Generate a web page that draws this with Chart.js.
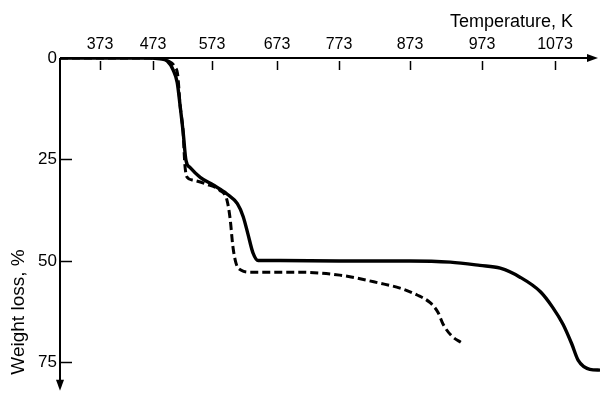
<!DOCTYPE html>
<html><head><meta charset="utf-8">
<script src="https://cdn.jsdelivr.net/npm/chart.js@4.4.0/dist/chart.umd.min.js"></script>
<style>html,body{margin:0;padding:0;background:#fff;}</style>
</head><body>
<canvas id="c" width="600" height="404" style="width:600px;height:404px;display:block"></canvas>
<script>
// ---- data ----
const temperatureTicks = [373, 473, 573, 673, 773, 873, 973, 1073];
const weightTicks = [0, 25, 50, 75];
const solidTemperature = [298, 467, 485, 497, 507, 514, 519, 524, 529, 536, 553, 575, 596, 612, 621, 628, 636, 644, 678, 773, 873, 929, 970, 998, 1025, 1053, 1070, 1084, 1096, 1105, 1121, 1135];
const solidWeightLoss  = [0, 0, 0.2, 0.7, 2.9, 6.0, 11.8, 18.1, 25.3, 27.0, 29.4, 31.3, 33.5, 35.9, 39.1, 43.2, 48.0, 49.9, 49.9, 50.0, 50.0, 50.3, 51.1, 51.8, 54.0, 57.6, 61.5, 65.6, 70.4, 74.5, 76.7, 76.9];
const dashedTemperature = [298, 485, 498, 510, 515, 519, 524, 527, 531, 541, 564, 585, 596, 601, 605, 610, 618, 632, 710, 774, 831, 859, 883, 901, 912, 919, 931, 945];
const dashedWeightLoss  = [0, 0, 0.7, 2.2, 4.3, 11.8, 18.1, 26.3, 29.4, 30.1, 31.1, 32.6, 35.0, 39.8, 46.3, 50.6, 52.3, 52.8, 52.8, 53.5, 55.5, 56.7, 58.4, 60.3, 62.7, 65.6, 68.5, 70.2];

// ---- axis layout: the original temperature axis is not evenly spaced ----
const xAxisKnotValues    = [298, 373, 473, 573, 673, 773, 873, 973, 1073, 1135];
const xAxisKnotFractions = [0, 0.0741, 0.1722, 0.2815, 0.4019, 0.5167, 0.6481, 0.7815, 0.9167, 1];

function warpFraction(v) {
  const K = xAxisKnotValues, F = xAxisKnotFractions;
  if (v <= K[0]) return F[0] + (v - K[0]) * (F[1] - F[0]) / (K[1] - K[0]);
  for (let i = 1; i < K.length; i++) {
    if (v <= K[i]) return F[i-1] + (v - K[i-1]) * (F[i] - F[i-1]) / (K[i] - K[i-1]);
  }
  const n = K.length - 1;
  return F[n] + (v - K[n]) * (F[n] - F[n-1]) / (K[n] - K[n-1]);
}
function unwarpFraction(f) {
  const K = xAxisKnotValues, F = xAxisKnotFractions;
  for (let i = 1; i < F.length; i++) {
    if (f <= F[i] || i === F.length - 1) return K[i-1] + (f - F[i-1]) * (K[i] - K[i-1]) / (F[i] - F[i-1]);
  }
}

const BaseLinear = Chart.LinearScale || Chart.registry.getScale('linear');
class WarpScale extends BaseLinear {
  getPixelForValue(value) {
    if (value === null || value === undefined || isNaN(value)) return NaN;
    return this.getPixelForDecimal(warpFraction(value));
  }
  getValueForPixel(pixel) { return unwarpFraction(this.getDecimalForPixel(pixel)); }
}
WarpScale.id = 'warp';
WarpScale.defaults = BaseLinear.defaults;
Chart.register(WarpScale);

const toPoints = (xs, ys) => xs.map((x, i) => ({x: x, y: ys[i]}));

const decoPlugin = {
  id: 'deco',
  afterDraw(chart) {
    const {ctx, chartArea: a, scales: {x, y}} = chart;
    ctx.save();
    ctx.strokeStyle = '#000'; ctx.fillStyle = '#000';
    // axes lines
    ctx.lineWidth = 2;
    ctx.beginPath(); ctx.moveTo(a.left, a.top); ctx.lineTo(a.right - 8, a.top); ctx.stroke();
    ctx.beginPath(); ctx.moveTo(a.right - 2, a.top); ctx.lineTo(a.right - 13, a.top - 4); ctx.lineTo(a.right - 13, a.top + 4); ctx.closePath(); ctx.fill();
    ctx.beginPath(); ctx.moveTo(a.left, a.top); ctx.lineTo(a.left, a.bottom - 8); ctx.stroke();
    ctx.beginPath(); ctx.moveTo(a.left, a.bottom); ctx.lineTo(a.left - 4, a.bottom - 11); ctx.lineTo(a.left + 4, a.bottom - 11); ctx.closePath(); ctx.fill();
    // inward tick marks
    ctx.lineWidth = 1.5;
    x.ticks.forEach(t => {
      const px = Math.round(x.getPixelForValue(t.value)) + 0.5;
      ctx.beginPath(); ctx.moveTo(px, a.top + 3); ctx.lineTo(px, a.top + 12); ctx.stroke();
    });
    y.ticks.forEach(t => {
      if (t.value === 0) return;
      const py = Math.round(y.getPixelForValue(t.value)) + 0.5;
      ctx.beginPath(); ctx.moveTo(a.left, py); ctx.lineTo(a.left + 12, py); ctx.stroke();
    });
    // axis titles
    ctx.font = '18px "Liberation Sans", Arial, sans-serif';
    ctx.textAlign = 'right'; ctx.textBaseline = 'alphabetic';
    ctx.fillText('Temperature, K', 573, 27);
    ctx.save();
    ctx.font = '19px "Liberation Sans", Arial, sans-serif';
    ctx.translate(24, 312);
    ctx.rotate(-Math.PI / 2);
    ctx.textAlign = 'center';
    ctx.fillText('Weight loss, %', 0, 0);
    ctx.restore();
    ctx.restore();
  }
};

new Chart(document.getElementById('c'), {
  type: 'line',
  data: {
    datasets: [
      { data: toPoints(solidTemperature, solidWeightLoss), borderColor: '#000', borderWidth: 3.4,
        pointRadius: 0, fill: false, cubicInterpolationMode: 'monotone' },
      { data: toPoints(dashedTemperature, dashedWeightLoss), borderColor: '#000', borderWidth: 3,
        borderDash: [8, 4], pointRadius: 0, fill: false, cubicInterpolationMode: 'monotone' }
    ]
  },
  options: {
    responsive: false,
    animation: false,
    devicePixelRatio: 1,
    layout: { padding: { left: 0, right: 0, top: 0, bottom: 6 } },
    plugins: { legend: { display: false }, tooltip: { enabled: false } },
    scales: {
      x: {
        type: 'warp', position: 'top', min: 298, max: 1135,
        afterBuildTicks: s => { s.ticks = temperatureTicks.map(v => ({value: v})); },
        afterFit: s => { s.height = 58; },
        grid: { display: false, drawTicks: false },
        border: { display: false },
        ticks: { color: '#000', padding: 4, maxRotation: 0, autoSkip: false,
                 font: { family: '"Liberation Sans Narrow", "Liberation Sans", Arial, sans-serif', size: 16 },
                 callback: v => String(v) }
      },
      y: {
        type: 'linear', position: 'left', reverse: true, min: 0, max: 82,
        afterBuildTicks: s => { s.ticks = weightTicks.map(v => ({value: v})); },
        afterFit: s => { s.width = 60; },
        grid: { display: false, drawTicks: false },
        border: { display: false },
        ticks: { color: '#000', padding: 3, autoSkip: false,
                 font: { family: '"Liberation Sans", Arial, sans-serif', size: 17 },
                 callback: v => String(v) }
      }
    }
  },
  plugins: [decoPlugin]
});
</script>
</body></html>
